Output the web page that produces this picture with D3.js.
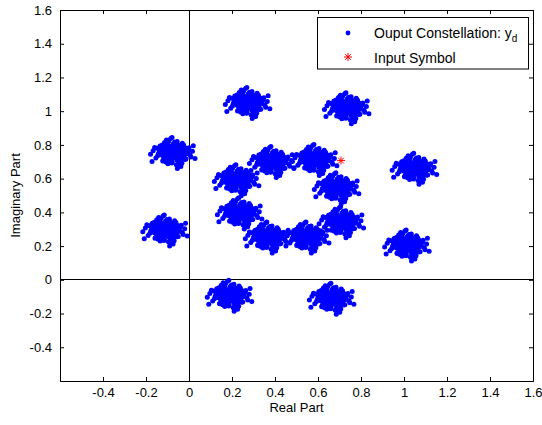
<!DOCTYPE html>
<html>
<head>
<meta charset="utf-8">
<script src="https://cdn.jsdelivr.net/npm/d3@7"></script>
<style>
  html, body { margin: 0; padding: 0; background: #fff; }
  svg { display: block; font-family: "Liberation Sans", Arial, sans-serif; }
</style>
</head>
<body>
<svg id="chart" width="542" height="425"></svg>
<script>
// Received constellation: cluster centres (real, imaginary)
const clusterReal = [-0.074, -0.11, 0.19, 0.274, 0.735, 0.665, 1.05, 1.015,
                     0.223, 0.386, 0.586, 0.688, 0.71, 0.549, 0.367, 0.237];
const clusterImag = [0.754, 0.295, -0.093, 1.05, 1.02, -0.11, 0.66, 0.205,
                     0.593, 0.70, 0.712, 0.545, 0.343, 0.253, 0.253, 0.396];

// Noise offsets of the received samples around each centre (in hundredths)
const noiseRe = [
  0, 1.2, -1.1, 0.6, -0.7, 2.1, -2.0, 1.8, -1.6, 0.3, 2.7, -2.8, 0.2, 1.5, -1.3, 3.1, -3.2, 2.9, -2.5, 0.9,
  0.5, -0.3, 1.9, -1.9, 1.0, -0.9, 2.3, -2.4, 1.1, -1.0,
  3.9, -4.1, 0.6, -0.5, 3.4, -3.6, 3.2, -3.0, 4.5, -4.6, 1.8, -2.1, 4.2, -4.4, 2.4, -1.2, 4.8, -5.0, 0.1, 3.8,
  5.6, -5.8, 2.9, -3.4, 6.2, -6.4, 0.8, -0.6, 5.4, -5.1, 4.3, -4.8, 7.0, -7.2, 1.5, -2.0,
  8.3, -8.6, 3.6, -1.1, 9.4, -9.8,
  0.4, -1.4, 1.6, -0.2, 0.9, -2.2, 2.6, -2.6, 1.3, -0.8, 3.3, -3.5, 2.2, -1.9, 0.1, -0.6, 1.7, -1.5, 2.8, -3.0,
  0.7, -1.2, 3.6, -2.4, 1.0,
  4.4, -4.7, 1.2, -1.0, 4.0, -4.2, 3.7, -3.9, 5.2, -5.3, 2.5, -2.7, 5.0, -5.5, 0.3, -0.4, 4.9, -4.6,
  6.5, -6.8, 1.9, -2.4, 6.0, -6.1, 4.1, -4.0, 7.4, -7.6, 3.0, -3.1, 7.9, -8.0,
  9.0, -9.3, -0.5, 2.0, 10.2, -10.5];
const noiseIm = [
  0, 0.5, 0.8, -1.3, -0.9, 1.4, 1.6, -1.9, -2.2, 2.4, -0.2, 0.1, -2.9, 2.8, 2.9, 1.1, -1.0, -2.4, -2.7, 3.3,
  1.7, -1.8, 0.2, -0.3, -0.6, 0.4, -1.1, 1.0, 1.9, -1.5,
  0.4, 0.9, 4.2, -4.0, 3.0, 2.8, -3.4, -3.7, -1.5, -1.8, -4.4, 4.4, 2.2, 3.6, 4.6, -4.8, 0.9, -0.4, 5.1, -4.1,
  2.9, 2.2, -5.7, -5.5, -0.8, 0.6, 6.3, -6.2, -4.0, 4.6, 5.6, -4.9, 1.8, -1.9, -7.1, 6.9,
  -2.6, 3.1, -8.2, 8.4, 4.1, -5.2,
  -0.6, 0.3, 1.1, 1.5, -2.1, -1.2, 0.6, 2.0, -3.0, 3.0, -1.8, -2.4, 2.6, -3.2, -0.2, -0.5, -0.8, 1.9, -2.9, 0.7,
  0.9, -2.6, 1.9, 3.3, 2.1,
  -0.4, 0.5, 4.6, -4.5, 3.6, 3.1, -4.0, -3.6, 1.6, -1.4, -5.0, 5.0, -2.6, 2.5, 5.5, -5.6, 4.5, -4.4,
  0.2, -0.5, 6.6, -6.5, -3.8, 4.0, -6.3, 6.1, 2.9, 2.6, -7.3, 7.5, -1.4, -3.2,
  0.8, 1.2, 9.0, -9.4, -3.5, -1.0];

// Transmitted symbol
const inputReal = [0.707];
const inputImag = [0.707];

// Axis ticks
const xTicks = [-0.4, -0.2, 0, 0.2, 0.4, 0.6, 0.8, 1, 1.2, 1.4, 1.6];
const yTicks = [-0.4, -0.2, 0, 0.2, 0.4, 0.6, 0.8, 1, 1.2, 1.4, 1.6];
const tickText = ["-0.4", "-0.2", "0", "0.2", "0.4", "0.6", "0.8", "1", "1.2", "1.4", "1.6"];

const legendLabels = ["Ouput Constellation: y", "Input Symbol"];

const svg = d3.select("#chart");
const plotLeft = 60, plotRight = 533, plotTop = 10, plotBottom = 381;

const x = d3.scaleLinear().domain([-0.6, 1.6]).range([plotLeft, plotRight]);
const y = d3.scaleLinear().domain([-0.6, 1.6]).range([plotBottom, plotTop]);

// Build the sample list from centres and noise offsets
const samples = [];
clusterReal.forEach((cr, i) => {
  noiseRe.forEach((nr, j) => {
    samples.push({ re: cr + nr / 100, im: clusterImag[i] + noiseIm[j] / 100 });
  });
});

const plot = svg.append("g");

// Zero lines
plot.append("line")
  .attr("x1", x(0)).attr("x2", x(0)).attr("y1", plotTop).attr("y2", plotBottom)
  .attr("stroke", "#000").attr("stroke-width", 1).attr("shape-rendering", "crispEdges");
plot.append("line")
  .attr("x1", plotLeft).attr("x2", plotRight).attr("y1", y(0)).attr("y2", y(0))
  .attr("stroke", "#000").attr("stroke-width", 1).attr("shape-rendering", "crispEdges");

// Received samples
plot.append("g").selectAll("circle").data(samples).join("circle")
  .attr("cx", d => x(d.re)).attr("cy", d => y(d.im))
  .attr("r", 2.5).attr("fill", "#0000ff");

// Star marker path
function starPath(s) {
  const d = s * 0.7071;
  return `M${-s},0L${s},0M0,${-s}L0,${s}M${-d},${-d}L${d},${d}M${-d},${d}L${d},${-d}`;
}

plot.append("g").selectAll("path").data(inputReal).join("path")
  .attr("transform", (d, i) => `translate(${x(d)},${y(inputImag[i])})`)
  .attr("d", starPath(4))
  .attr("stroke", "#ff0000").attr("stroke-width", 1).attr("fill", "none");

// Axes with inward ticks (box style)
const xAxis = d3.axisBottom(x).tickValues(xTicks).tickSize(-4).tickPadding(7)
  .tickFormat(d => tickText[xTicks.indexOf(d)]);
const yAxis = d3.axisLeft(y).tickValues(yTicks).tickSize(-4).tickPadding(8)
  .tickFormat(d => tickText[yTicks.indexOf(d)]);

const gx = svg.append("g").attr("transform", `translate(0,${plotBottom})`).call(xAxis);
const gy = svg.append("g").attr("transform", `translate(${plotLeft},0)`).call(yAxis);
const gxt = svg.append("g").attr("transform", `translate(0,${plotTop})`)
  .call(d3.axisTop(x).tickValues(xTicks).tickSize(-4).tickFormat(""));
const gyr = svg.append("g").attr("transform", `translate(${plotRight},0)`)
  .call(d3.axisRight(y).tickValues(yTicks).tickSize(-4).tickFormat(""));

[gx, gy, gxt, gyr].forEach(g => {
  g.select(".domain").attr("stroke", "#000").attr("stroke-width", 1);
  g.selectAll(".tick line").attr("stroke", "#000");
  g.selectAll("text").attr("font-size", 13).attr("fill", "#000")
    .attr("font-family", "'Liberation Sans', Arial, sans-serif");
});

// Axis labels
svg.append("text")
  .attr("x", (plotLeft + plotRight) / 2).attr("y", 412)
  .attr("text-anchor", "middle").attr("font-size", 13).text("Real Part");
svg.append("text")
  .attr("transform", `translate(20,${(plotTop + plotBottom) / 2}) rotate(-90)`)
  .attr("text-anchor", "middle").attr("font-size", 13).text("Imaginary Part");

// Legend
const lg = svg.append("g");
lg.append("rect")
  .attr("x", 317.5).attr("y", 17.5).attr("width", 211).attr("height", 51.5)
  .attr("fill", "#fff").attr("stroke", "#000").attr("stroke-width", 1);
lg.append("circle").attr("cx", 348).attr("cy", 33).attr("r", 2.4).attr("fill", "#0000ff");
lg.append("path").attr("transform", "translate(348,57)").attr("d", starPath(4))
  .attr("stroke", "#ff0000").attr("stroke-width", 1).attr("fill", "none");
const t1 = lg.append("text").attr("x", 374).attr("y", 38).attr("font-size", 14).text(legendLabels[0]);
t1.append("tspan").attr("dy", 4).attr("font-size", 10).text("d");
lg.append("text").attr("x", 374).attr("y", 63).attr("font-size", 14).text(legendLabels[1]);
</script>
</body>
</html>
